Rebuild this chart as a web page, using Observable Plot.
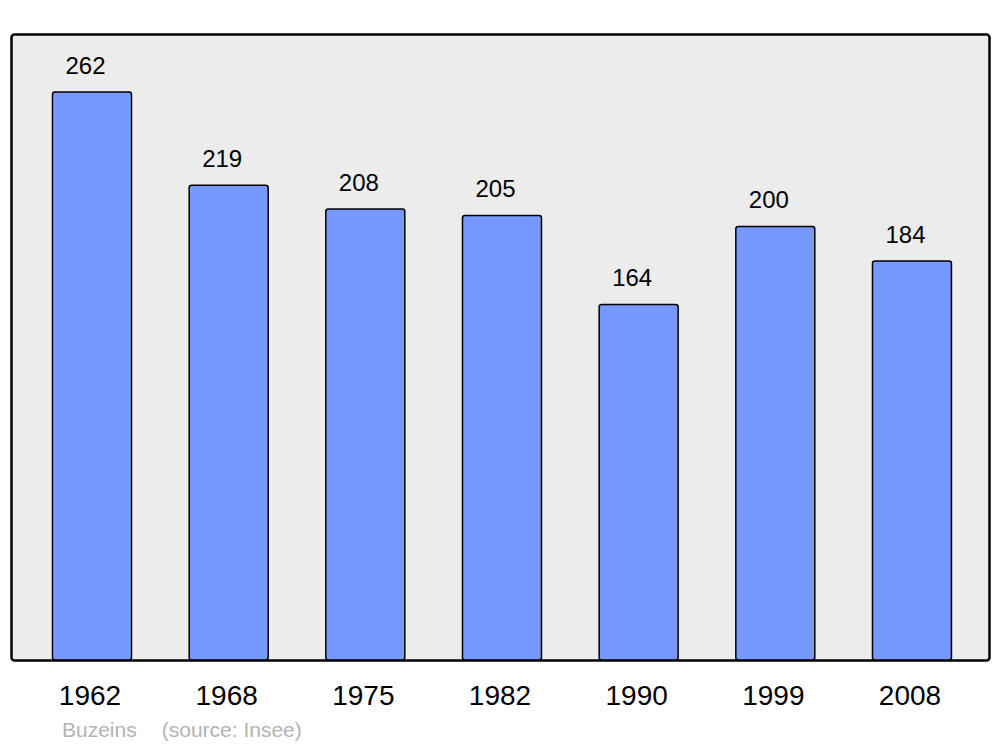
<!DOCTYPE html>
<html>
<head>
<meta charset="utf-8">
<script src="https://cdn.jsdelivr.net/npm/d3@7"></script>
<script src="https://cdn.jsdelivr.net/npm/@observablehq/plot@0.6"></script>
<style>
  html, body { margin: 0; padding: 0; background: #fff; }
  #wrap { position: relative; width: 1000px; height: 747px; font-family: "Liberation Sans", Arial, sans-serif; }
  #caption { position: absolute; left: 62px; top: 718px; font-size: 21px; line-height: 23px; color: #b3b3b3; white-space: pre; }
</style>
</head>
<body>
<div id="wrap">
  <div id="chart"></div>
  <div id="caption">Buzeins<span style="margin-left:25px">(source: Insee)</span></div>
</div>
<script>
const years = ["1962", "1968", "1975", "1982", "1990", "1999", "2008"];
const population = [262, 219, 208, 205, 164, 200, 184];
const data = years.map((year, i) => ({year, pop: population[i]}));

const chart = Plot.plot({
  width: 1000,
  height: 715,
  marginTop: 34,
  marginBottom: 55,
  marginLeft: 11,
  marginRight: 11,
  style: {fontFamily: "Liberation Sans, Arial, sans-serif", background: "white", color: "black"},
  x: {domain: years, range: [23.67, 980.3], paddingInner: 0.422, paddingOuter: 0.211, round: false, label: null},
  y: {domain: [0, 262], range: [660, 92], axis: null},
  marks: [
    Plot.frame({fill: "#ececec", stroke: "black", strokeWidth: 2.5, rx: 3}),
    Plot.barY(data, {x: "year", y: "pop", fill: "#7799ff", stroke: "black", strokeWidth: 1.5, rx: 2.5}),
    Plot.text(data, {x: "year", y: "pop", text: d => String(d.pop), lineAnchor: "bottom", dy: -19, dx: -7, fontSize: 24, fill: "black"}),
    Plot.axisX({tickSize: 0, tickPadding: 25, dx: -2.5, fontSize: 28, fill: "black", label: null})
  ]
});
document.getElementById("chart").appendChild(chart);
</script>
</body>
</html>
